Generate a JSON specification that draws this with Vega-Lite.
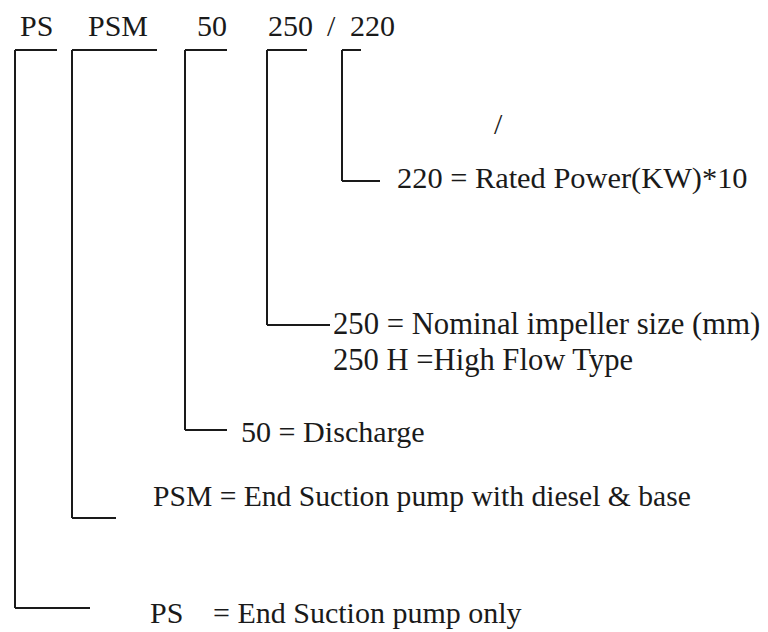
{
  "$schema": "https://vega.github.io/schema/vega-lite/v6.json",
  "width": 768,
  "height": 632,
  "autosize": {"type": "fit", "contains": "padding"},
  "padding": 0,
  "background": "white",
  "config": {"view": {"stroke": null}},
  "datasets": {
    "lines": [
      {"x": 15, "y": 50, "x2": 57, "y2": 50},
      {"x": 15, "y": 50, "x2": 15, "y2": 608},
      {"x": 15, "y": 608, "x2": 90, "y2": 608},
      {"x": 72, "y": 50, "x2": 157, "y2": 50},
      {"x": 72, "y": 50, "x2": 72, "y2": 518},
      {"x": 72, "y": 518, "x2": 116, "y2": 518},
      {"x": 185, "y": 50, "x2": 227, "y2": 50},
      {"x": 185, "y": 50, "x2": 185, "y2": 430},
      {"x": 185, "y": 430, "x2": 227, "y2": 430},
      {"x": 267, "y": 50, "x2": 307, "y2": 50},
      {"x": 267, "y": 50, "x2": 267, "y2": 325},
      {"x": 267, "y": 325, "x2": 330, "y2": 325},
      {"x": 342, "y": 50, "x2": 361, "y2": 50},
      {"x": 342, "y": 50, "x2": 342, "y2": 181},
      {"x": 342, "y": 181, "x2": 380, "y2": 181}
    ],
    "codes": [
      {"x": 20, "y": 36, "t": "PS"},
      {"x": 88, "y": 36, "t": "PSM"},
      {"x": 197, "y": 36, "t": "50"},
      {"x": 268, "y": 36, "t": "250"},
      {"x": 327, "y": 36, "t": "/"},
      {"x": 350, "y": 36, "t": "220"},
      {"x": 494, "y": 134, "t": "/"}
    ],
    "notes": [
      {"x": 397, "y": 188, "t": "220 = Rated Power(KW)*10"},
      {"x": 333, "y": 334, "t": "250 = Nominal impeller size (mm)"},
      {"x": 333, "y": 370, "t": "250 H =High Flow Type"},
      {"x": 241, "y": 442, "t": "50 = Discharge"},
      {"x": 153, "y": 506, "t": "PSM = End Suction pump with diesel & base"},
      {"x": 150, "y": 623, "t": "PS"},
      {"x": 213, "y": 623, "t": "= End Suction pump only"}
    ]
  },
  "layer": [
    {
      "data": {"name": "lines"},
      "mark": {"type": "rule", "color": "#1a1a1a", "strokeWidth": 2},
      "encoding": {
        "x": {"field": "x", "type": "quantitative", "scale": {"domain": [0, 768]}, "axis": null},
        "y": {"field": "y", "type": "quantitative", "scale": {"domain": [0, 632], "reverse": true}, "axis": null},
        "x2": {"field": "x2"},
        "y2": {"field": "y2"}
      }
    },
    {
      "data": {"name": "codes"},
      "mark": {"type": "text", "align": "left", "baseline": "alphabetic", "font": "Liberation Serif", "fontSize": 30, "color": "#1a1a1a"},
      "encoding": {
        "x": {"field": "x", "type": "quantitative", "scale": {"domain": [0, 768]}, "axis": null},
        "y": {"field": "y", "type": "quantitative", "scale": {"domain": [0, 632], "reverse": true}, "axis": null},
        "text": {"field": "t"}
      }
    },
    {
      "data": {"name": "notes"},
      "mark": {"type": "text", "align": "left", "baseline": "alphabetic", "font": "Liberation Serif", "color": "#1a1a1a"},
      "encoding": {
        "x": {"field": "x", "type": "quantitative", "scale": {"domain": [0, 768]}, "axis": null},
        "y": {"field": "y", "type": "quantitative", "scale": {"domain": [0, 632], "reverse": true}, "axis": null},
        "text": {"field": "t"},
        "size": {
          "field": "t",
          "type": "nominal",
          "legend": null,
          "scale": {
            "type": "ordinal",
            "domain": ["220 = Rated Power(KW)*10", "250 = Nominal impeller size (mm)", "250 H =High Flow Type", "50 = Discharge", "PSM = End Suction pump with diesel & base", "PS", "= End Suction pump only"],
            "range": [30.4, 30.7, 30.6, 30.1, 29.6, 30, 30]
          }
        }
      }
    }
  ]
}
